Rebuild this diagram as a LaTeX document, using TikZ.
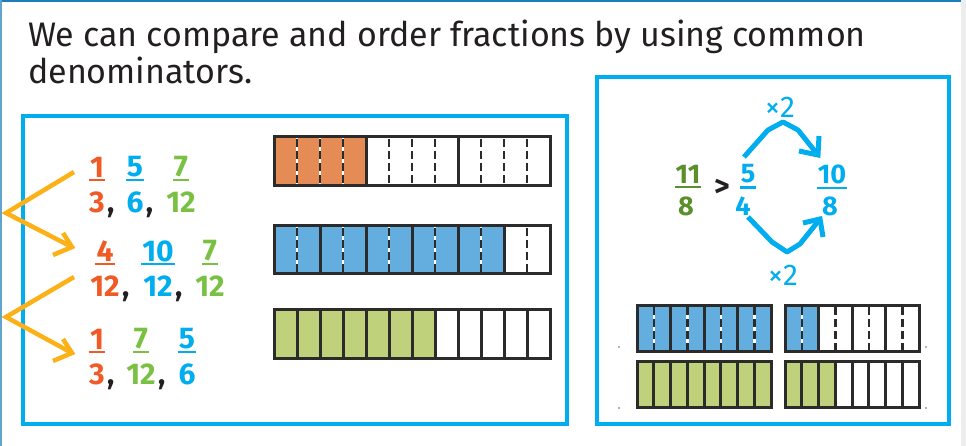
\documentclass[tikz,border=0pt]{standalone}
\usepackage{fontspec}
\setmainfont{Fira Sans}
\usetikzlibrary{calc}
\definecolor{txtdark}{HTML}{231F20}
\definecolor{forng}{HTML}{F15A24}
\definecolor{fblue}{HTML}{00AEEF}
\definecolor{fgreen}{HTML}{7AC143}
\definecolor{dgreen}{HTML}{5A8F2A}
\definecolor{arrorng}{HTML}{FBB117}
\definecolor{boxblue}{HTML}{00AEEF}
\definecolor{barorng}{HTML}{E58B56}
\definecolor{barblue}{HTML}{63AEDF}
\definecolor{bargreen}{HTML}{BFD17A}
\definecolor{barline}{HTML}{2B2B2B}
\definecolor{topblue}{HTML}{1E7DB8}
\newcommand\fracbar[8]{%
  \pgfmathsetmacro\cw{(#3-#1)/#5}%
  \ifnum#7>0 \fill[#8] (#1,#2) rectangle ({#1+#7*\cw},#4);\fi
  \pgfmathtruncatemacro\nm{#5-1}%
  \foreach \i in {1,...,\nm}{%
    \pgfmathtruncatemacro\rr{mod(\i,#6)}%
    \ifnum\rr=0
      \draw[barsolid] ({#1+\i*\cw},#2) -- ({#1+\i*\cw},#4);
    \else
      \draw[barwhite] ({#1+\i*\cw},#2) -- ({#1+\i*\cw},#4);
      \draw[bardash] ({#1+\i*\cw},#2) -- ({#1+\i*\cw},#4);
    \fi
  }%
  \draw[barframe] (#1,#2) rectangle (#3,#4);
}
\newcommand\leftfrac[6]{% name, x, y, num, den, colour
  \node[numst, text=#6] (#1n) at (#2,#3) {#4};
  \draw[ulst, #6] ($(#1n.south west)+(-1,2.5)$) -- ($(#1n.south east)+(1,2.5)$);
  \node[numst, text=#6] (#1d) at (#2,#3+35) {#5};
}
\begin{document}
\begin{tikzpicture}[x=1pt,y=-1pt,
  numst/.style={inner sep=0pt, font=\fontsize{30}{30}\selectfont\bfseries},
  smallnum/.style={inner sep=0pt, font=\fontsize{27}{27}\selectfont\bfseries},
  ulst/.style={line width=2.2pt},
  commast/.style={inner sep=0pt, text=txtdark, font=\fontsize{30}{30}\selectfont\bfseries},
  titlest/.style={inner sep=0pt, anchor=base west, text=txtdark, font=\fontsize{34}{37}\selectfont},
  timesst/.style={inner sep=0pt, text=fblue, font=\fontsize{30}{30}\selectfont},
  boxst/.style={draw=boxblue, line width=3.5pt, line join=miter},
  orarrow/.style={draw=arrorng, line width=4.5pt, line join=miter},
  blarrow/.style={draw=fblue, line width=5pt, line join=round},
  barframe/.style={draw=barline, line width=3pt},
  barsolid/.style={draw=barline, line width=3pt},
  barwhite/.style={draw=white, line width=2.5pt},
  bardash/.style={draw=barline, line width=2.5pt, dash pattern=on 8pt off 4pt, dash phase=-2pt},
]
\useasboundingbox (0,0) rectangle (966,446);
\fill[white] (0,0) rectangle (966,446);
% page frame
\fill[topblue] (0,0) rectangle (966,2.5);
\fill[topblue!70] (0,0) rectangle (1.5,446);
\fill[black!7] (961,0) rectangle (966,446);

% title
\node[titlest] (title1) at (28,47) {We can compare and order fractions by using common};
\node[titlest] (title2) at (28,84) {denominators.};

% boxes
\draw[boxst] (23,116) rectangle (567,424);
\draw[boxst, line width=4pt] (597,77) rectangle (949,424);

% left fractions
\leftfrac{ra}{97}{167}{1}{3}{forng}
\leftfrac{rb}{135}{167}{5}{6}{fblue}
\leftfrac{rc}{181}{167}{7}{12}{fgreen}
\node[commast, anchor=base west] (ca1) at ($(rad.base east)+(2,0)$) {,};
\node[commast, anchor=base west] (ca2) at ($(rbd.base east)+(2,0)$) {,};

\leftfrac{sa}{105}{251}{4}{12}{forng}
\leftfrac{sb}{158}{251}{10}{12}{fblue}
\leftfrac{sc}{210}{251}{7}{12}{fgreen}
\node[commast, anchor=base west] (cb1) at ($(sad.base east)+(2,0)$) {,};
\node[commast, anchor=base west] (cb2) at ($(sbd.base east)+(2,0)$) {,};

\leftfrac{ta}{97}{339}{1}{3}{forng}
\leftfrac{tb}{141}{339}{7}{12}{fgreen}
\leftfrac{tc}{187}{339}{5}{6}{fblue}
\node[commast, anchor=base west] (cc1) at ($(tad.base east)+(2,0)$) {,};
\node[commast, anchor=base west] (cc2) at ($(tbd.base east)+(2,0)$) {,};

% orange arrows
\coordinate (o1s) at (74,172); \coordinate (o1v) at (6,213); \coordinate (o1t) at (72,247);
\coordinate (o1a) at (63,233); \coordinate (o1b) at (53,255);
\draw[orarrow] (o1s) -- (o1v) -- (o1t);
\draw[orarrow] (o1a) -- (o1t) -- (o1b);
\coordinate (o2s) at (74,277); \coordinate (o2v) at (6,317); \coordinate (o2t) at (72,353);
\coordinate (o2a) at (63,339); \coordinate (o2b) at (53,361);
\draw[orarrow] (o2s) -- (o2v) -- (o2t);
\draw[orarrow] (o2a) -- (o2t) -- (o2b);

% left bars
\fracbar{274}{137}{550}{186}{12}{4}{4}{barorng}
\fracbar{274}{226}{550}{274}{12}{2}{10}{barblue}
\fracbar{274}{309}{550}{358}{12}{1}{7}{bargreen}

% right panel
\node[timesst] (x2top) at (780,107) {×2};
\node[timesst] (x2bot) at (783,275) {×2};

\node[smallnum, text=dgreen] (en) at (688,174) {11};
\draw[ulst, dgreen] ($(en.south west)+(-1,4)$) -- ($(en.south east)+(1,4)$);
\node[smallnum, text=dgreen] (ed) at (686,206) {8};
\node[inner sep=0pt, text=txtdark, font=\fontsize{30}{30}\selectfont\bfseries] (gt) at (722,188) {>};
\node[smallnum, text=fblue] (fn) at (748,174) {5};
\draw[ulst, fblue] ($(fn.south west)+(-1,4)$) -- ($(fn.south east)+(1,4)$);
\node[smallnum, text=fblue] (fd) at (743,206) {4};
\node[smallnum, text=fblue] (gn) at (832,174) {10};
\draw[ulst, fblue] ($(gn.south west)+(-1,4)$) -- ($(gn.south east)+(1,4)$);
\node[smallnum, text=fblue] (gd) at (830,206) {8};

% blue arrows
\coordinate (b1s) at (744,157); \coordinate (b1p) at (768,130); \coordinate (b1q) at (783,122);
\coordinate (b1r) at (798,130); \coordinate (b1t) at (818,155);
\coordinate (b1a) at (799,151); \coordinate (b1b) at (819,136);
\draw[blarrow] (b1s) -- (b1p) -- (b1q) -- (b1r) -- (b1t);
\draw[blarrow, line join=miter] (b1a) -- (b1t) -- (b1b);
\coordinate (b2s) at (748,217); \coordinate (b2p) at (772,242); \coordinate (b2q) at (787,252);
\coordinate (b2r) at (800,244); \coordinate (b2t) at (820,219);
\coordinate (b2a) at (803,223); \coordinate (b2b) at (823,237);
\draw[blarrow] (b2s) -- (b2p) -- (b2q) -- (b2r) -- (b2t);
\draw[blarrow, line join=miter] (b2a) -- (b2t) -- (b2b);

% right bars
\fracbar{637}{305}{771}{351}{8}{2}{8}{barblue}
\fracbar{785}{305}{919}{351}{8}{2}{2}{barblue}
\fracbar{637}{361}{771}{407}{8}{1}{8}{bargreen}
\fracbar{785}{361}{919}{407}{8}{1}{3}{bargreen}

% tiny marks
\fill[black!60] (619,347) circle (0.8);
\fill[black!60] (619,408) circle (0.8);
\fill[black!60] (926,347) circle (0.8);
\fill[black!60] (926,408) circle (0.8);
\end{tikzpicture}
\end{document}
